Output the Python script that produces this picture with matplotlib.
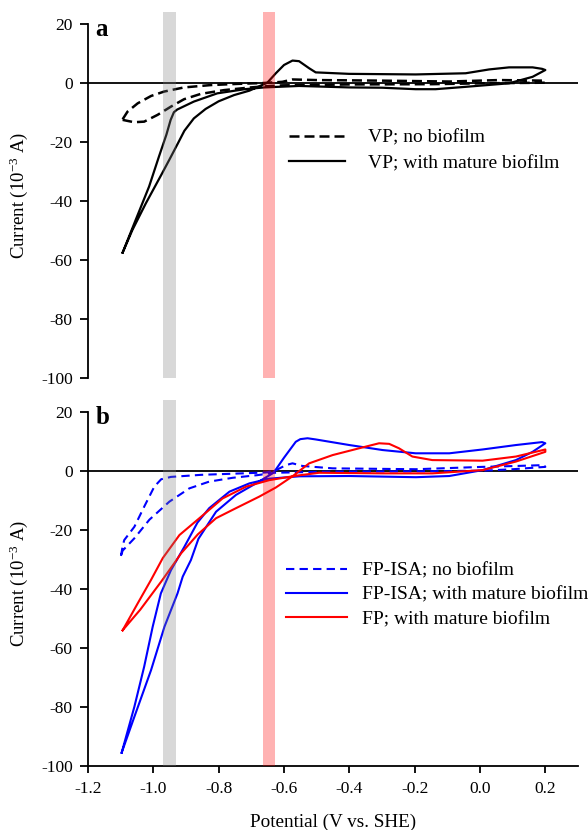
import matplotlib
matplotlib.use('Agg')
import matplotlib.pyplot as plt

plt.rcParams.update({
    'font.family': 'serif',
    'font.serif': ['Liberation Serif', 'DejaVu Serif'],
    'mathtext.fontset': 'custom',
    'mathtext.rm': 'Liberation Serif',
    'mathtext.it': 'Liberation Serif:italic',
    'axes.unicode_minus': False,
    'font.size': 12,
})

# --- panel a: VP ---
vp_nobio_v = [-1.094, -1.079, -1.048, -1.007, -0.967, -0.906, -0.824, -0.742, -0.661, -0.605,
              -0.574, -0.503, -0.299, -0.094, 0.059, 0.195,
              0.200, 0.007, -0.146, -0.401, -0.605, -0.641, -0.702, -0.783, -0.855, -0.906,
              -0.946, -0.987, -1.028, -1.059, -1.094]
vp_nobio_i = [-12.3, -9.7, -6.9, -4.4, -2.9, -1.5, -0.7, -0.3, 0.0, 0.4,
              1.2, 1.0, 0.8, 0.5, 1.0, 0.8,
              0.1, -0.1, -0.4, -0.5, -0.8, -1.0, -1.5, -2.4, -3.7, -5.5,
              -8.0, -10.8, -13.1, -13.3, -12.5]

vp_bio_v = [-1.094, -1.054, -1.013, -0.983, -0.960, -0.947, -0.937, -0.927, -0.876, -0.804,
            -0.720, -0.661, -0.554, -0.400, -0.299, -0.197, -0.136, -0.044, 0.089, 0.161, 0.200,
            0.190, 0.161, 0.089, 0.028, -0.044, -0.197, -0.401, -0.503, -0.523, -0.554,
            -0.574, -0.600, -0.625, -0.651, -0.706, -0.753, -0.800, -0.840, -0.876, -0.905,
            -0.925, -0.950, -0.975, -1.023, -1.064, -1.094]
vp_bio_i = [-57.5, -46.4, -35.1, -25.0, -17.5, -12.5, -9.9, -9.0, -6.3, -3.5,
            -2.1, -1.5, -1.0, -1.5, -1.6, -2.1, -2.1, -1.3, -0.1, 2.1, 4.4,
            4.8, 5.3, 5.3, 4.6, 3.3, 2.9, 3.1, 3.6, 5.0, 7.4,
            7.6, 6.1, 3.3, 0.1, -2.6, -4.1, -6.2, -8.8, -12.0, -16.2,
            -20.5, -25.8, -31.0, -40.8, -49.8, -57.5]

# --- panel b: FP-ISA / FP ---
isa_nobio_v = [-1.099, -1.094, -1.089, -1.058, -1.028, -0.997, -0.976, -0.946, -0.854, -0.752,
               -0.655, -0.624, -0.594, -0.574, -0.543, -0.451, -0.196, 0.008, 0.110, 0.195,
               0.200, 0.100, 0.008, -0.196, -0.451, -0.630, -0.681, -0.757, -0.829, -0.890,
               -0.951, -1.012, -1.058, -1.094, -1.099]
isa_nobio_i = [-28.8, -25.5, -23.4, -18.9, -12.1, -5.3, -2.8, -2.0, -1.3, -0.9,
               -0.5, 0.3, 2.0, 2.6, 1.7, 0.9, 0.6, 1.4, 1.7, 2.0,
               1.4, 0.6, 0.1, -0.1, -0.2, -0.6, -1.4, -2.3, -3.6, -5.9,
               -10.4, -16.5, -22.8, -27.0, -28.8]

isa_bio_v = [-1.097, -1.058, -1.028, -1.002, -0.977, -0.946, -0.905, -0.865, -0.829, -0.767,
             -0.706, -0.645, -0.553, -0.400, -0.196, -0.094, 0.008, 0.110, 0.161, 0.200,
             0.190, 0.110, 0.008, -0.094, -0.197, -0.298, -0.400, -0.503, -0.528, -0.550,
             -0.564, -0.600, -0.625, -0.635, -0.686, -0.747, -0.808, -0.862, -0.885, -0.910,
             -0.926, -0.966, -1.007, -1.058, -1.097]
isa_bio_i = [-95.5, -79.9, -66.3, -52.8, -41.5, -33.6, -25.7, -17.5, -12.6, -7.0,
             -4.2, -2.6, -1.8, -1.7, -2.1, -1.7, 0.3, 3.7, 6.5, 9.4,
             9.8, 8.8, 7.3, 6.0, 6.0, 7.1, 8.8, 10.7, 11.1, 10.8,
             9.9, 4.5, 0.5, -0.8, -4.2, -8.1, -13.8, -23.0, -30.2, -35.8,
             -41.5, -52.8, -67.5, -83.3, -95.5]

fp_bio_v = [-1.094, -1.048, -1.007, -0.971, -0.920, -0.859, -0.788, -0.716, -0.645, -0.563,
            -0.492, -0.298, -0.146, 0.008, 0.110, 0.200,
            0.200, 0.110, 0.008, -0.146, -0.207, -0.248, -0.278, -0.309, -0.370, -0.451,
            -0.523, -0.574, -0.625, -0.676, -0.747, -0.808, -0.864, -0.915, -0.931, -0.976,
            -1.040, -1.094]
fp_bio_i = [-54.0, -44.9, -36.9, -29.5, -21.7, -16.0, -9.3, -5.3, -3.1, -1.6,
            -0.6, -0.8, -0.8, 0.3, 3.2, 6.5,
            7.3, 4.9, 3.5, 3.7, 4.9, 7.7, 9.2, 9.4, 7.7, 5.4,
            2.6, -1.8, -5.6, -8.7, -12.6, -16.0, -21.5, -27.9, -30.5, -37.5,
            -47.0, -54.0]

gray_band = (-0.970, -0.930)
red_band = (-0.665, -0.628)
yticks = [20, 0, -20, -40, -60, -80, -100]
xticks = [-1.2, -1.0, -0.8, -0.6, -0.4, -0.2, 0.0, 0.2]

fig = plt.figure(figsize=(5.88, 8.30), dpi=100)
ax_a = fig.add_axes([88/588, 1 - 378/830, 490/588, 365.8/830])
ax_b = fig.add_axes([88/588, 1 - 766/830, 490/588, 365.8/830])


def style_axis(ax, show_x):
    ax.set_xlim(-1.2, 0.3)
    ax.set_ylim(-100, 24)
    for s in ['top', 'right']:
        ax.spines[s].set_visible(False)
    ax.spines['left'].set_bounds(-100, 20)
    ax.spines['left'].set_linewidth(1.3)
    ax.set_yticks(yticks)
    ax.set_yticklabels([str(t) for t in yticks])
    ax.tick_params(axis='y', direction='out', length=6, width=1.3, labelsize=12.5, pad=5)
    ax.axhline(0, color='black', lw=1.3, zorder=1)
    ax.axvspan(*gray_band, color='#808080', alpha=0.3, lw=0, zorder=5)
    ax.axvspan(*red_band, color='#ff0000', alpha=0.3, lw=0, zorder=5)
    ax.set_ylabel('Current (10$^{-3}$ A)', fontsize=13.5, labelpad=8)
    if show_x:
        ax.spines['bottom'].set_linewidth(1.3)
        ax.set_xticks(xticks)
        ax.set_xticklabels(['%.1f' % t for t in xticks])
        ax.tick_params(axis='x', direction='out', length=5, width=1.3, labelsize=12.5, pad=6)
        ax.set_xlabel('Potential (V vs. SHE)', fontsize=13.8, labelpad=12)
    else:
        ax.spines['bottom'].set_visible(False)
        ax.set_xticks([])


style_axis(ax_a, False)
style_axis(ax_b, True)

ax_a.plot(vp_nobio_v, vp_nobio_i, color='black', lw=1.8, ls=(0, (4, 2)), label='VP; no biofilm')
ax_a.plot(vp_bio_v, vp_bio_i, color='black', lw=1.6, label='VP; with mature biofilm')
ax_a.text(0.015, 0.985, 'a', transform=ax_a.transAxes, fontsize=18, fontweight='bold', va='top')
ax_a.legend(loc='center left', bbox_to_anchor=(0.41, 0.622), frameon=False, fontsize=14,
            handlelength=2.9, handletextpad=1.15, borderpad=0, borderaxespad=0, labelspacing=0.42)

ax_b.plot(isa_nobio_v, isa_nobio_i, color='#0000ff', lw=1.5, ls=(0, (4, 2.5)), label='FP-ISA; no biofilm')
ax_b.plot(isa_bio_v, isa_bio_i, color='#0000ff', lw=1.5, label='FP-ISA; with mature biofilm')
ax_b.plot(fp_bio_v, fp_bio_i, color='#ff0000', lw=1.5, label='FP; with mature biofilm')
ax_b.text(0.015, 0.985, 'b', transform=ax_b.transAxes, fontsize=18, fontweight='bold', va='top')
ax_b.legend(loc='center left', bbox_to_anchor=(0.405, 0.4675), frameon=False, fontsize=14,
            handlelength=3.1, handletextpad=0.8, borderpad=0, borderaxespad=0, labelspacing=0.35)

fig.savefig('out.png', dpi=100)
